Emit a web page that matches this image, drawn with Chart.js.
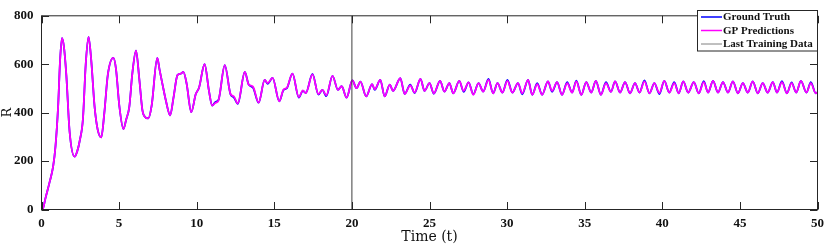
<!DOCTYPE html>
<html><head><meta charset="utf-8">
<script src="https://cdn.jsdelivr.net/npm/chart.js@4.4.1/dist/chart.umd.min.js"></script>
<style>html,body{margin:0;padding:0;background:#fff;}#wrap{width:830px;height:247px;position:relative;}</style>
</head><body><div id="wrap"><canvas id="c" width="830" height="247"></canvas></div>
<script>
const timeValues = [
0,0.1,0.25,0.53,0.75,0.9,1.07,1.2,1.32,1.45,
1.6,1.81,2.13,2.3,2.46,2.67,2.85,3.03,3.2,3.42,
3.62,3.85,4.05,4.27,4.63,4.8,5.02,5.28,5.45,5.66,
5.85,6.09,6.3,6.5,6.62,6.88,7.1,7.46,7.6,7.8,
8.01,8.29,8.5,8.76,8.97,9.14,9.35,9.65,9.94,10.15,
10.51,10.79,11.0,11.2,11.4,11.81,12.18,12.39,12.65,13.10,
13.35,13.63,13.99,14.38,14.57,14.89,15.32,15.6,15.8,16.17,
16.58,16.84,17.03,17.46,17.84,18.1,18.35,18.75,19.1,19.34,
19.66,20.03,20.3,20.55,20.92,21.3,21.47,21.83,22.11,22.44,
22.65,23.12,23.4,23.76,24.04,24.42,24.68,25.0,25.28,25.68,
25.96,26.28,26.53,26.92,27.2,27.52,27.82,28.16,28.46,28.8,
29.1,29.38,29.7,30.02,30.34,30.7,30.98,31.35,31.62,31.94,
32.26,32.63,32.9,33.22,33.54,33.87,34.19,34.46,34.78,35.1,
35.42,35.72,36.04,36.37,36.69,36.96,37.28,37.6,37.92,38.24,
38.53,38.85,39.17,39.49,39.81,40.13,40.45,40.77,41.06,41.35,
41.67,42.03,42.35,42.67,42.95,43.27,43.59,43.91,44.23,44.55,
44.87,45.19,45.51,45.83,46.15,46.47,46.79,47.12,47.39,47.71,
48.03,48.33,48.63,48.93,49.29,49.57,49.89,50
];
const gpPredictionR = [
0,5,45,115,178,260,425,620,708,670,
555,322,218,240,283,374,600,713,620,425,
330,298,400,555,626,580,425,332,370,425,
560,656,540,410,386,376,430,626,580,516,
451,389,460,555,561,568,520,402,477,503,
600,490,429,440,450,596,477,467,438,568,
516,507,441,535,522,544,447,496,502,561,
464,492,481,558,477,494,471,552,494,509,
462,533,501,528,467,518,496,535,467,516,
490,542,477,513,483,539,490,522,480,531,
487,522,480,531,490,525,474,522,487,535,
480,522,483,531,483,522,480,535,474,518,
474,529,490,526,474,522,483,529,474,526,
483,531,474,522,486,529,483,526,480,522,
483,529,480,522,481,531,483,522,480,529,
483,526,480,526,483,531,483,526,483,529,
480,522,483,529,480,522,483,526,483,526,
480,522,483,531,483,522,480,484
];
const groundTruthR = [
0,5,45,115,178,260,425,620,708,670,
555,322,218,240,283,374,600,713,620,425,
330,298,400,555,626,580,425,332,370,425,
560,656,540,410,386,376,430,626,580,516,
451,389,460,555,561,568,520,402,477,503,
600,490,429,444,452,596,475,463,436,568,
516,503,441,535,519,544,447,494,500,561,
462,490,481,560,475,494,468,552,494,509,
462,533,501,528,467,518,494,535,467,516,
490,542,477,516,481,539,490,522,478,531,
487,522,480,531,486,525,476,522,487,539,
480,522,483,535,483,522,476,535,474,522,
474,529,486,526,474,526,483,532,474,526,
483,531,474,526,486,529,483,526,480,522,
483,533,480,522,477,531,483,526,480,529,
483,526,480,530,483,531,483,526,483,529,
480,522,483,529,480,522,483,526,483,530,
480,525,483,531,483,526,480,484
];
const lastTrainingTime = 20;
const xTickValues = [0,5,10,15,20,25,30,35,40,45,50];
const yTickValues = [0,200,400,600,800];
const seriesLabels = ['Ground Truth','GP Predictions','Last Training Data'];
const xAxisTitle = 'Time (t)';
const yAxisTitle = 'R';

const COL_GT = '#0000FF', COL_GP = '#FF00FF', COL_LAST = '#3f3f3f', AXIS = '#262626';

const toPts = (ys) => timeValues.map((t, i) => ({x: t, y: ys[i]}));

const frameTicks = {
  id: 'frameTicks',
  afterDatasetsDraw(chart) {
    const {ctx, chartArea: a, scales: {x, y}} = chart;
    ctx.save();
    ctx.strokeStyle = AXIS; ctx.lineWidth = 1;
    ctx.strokeRect(a.left, a.top, a.right - a.left, a.bottom - a.top);
    const L = 7.5;
    ctx.beginPath();
    xTickValues.forEach(v => {
      const px = Math.round(x.getPixelForValue(v)) + 0.5;
      ctx.moveTo(px, a.bottom); ctx.lineTo(px, a.bottom - L);
      ctx.moveTo(px, a.top); ctx.lineTo(px, a.top + L);
    });
    yTickValues.forEach(v => {
      const py = Math.round(y.getPixelForValue(v)) + 0.5;
      ctx.moveTo(a.left, py); ctx.lineTo(a.left + L, py);
      ctx.moveTo(a.right, py); ctx.lineTo(a.right - L, py);
    });
    ctx.stroke();
    ctx.restore();
  }
};

const boxLegend = {
  id: 'boxLegend',
  afterDraw(chart) {
    const {ctx} = chart;
    const bx = 697.5, by = 10.5, bw = 120, bh = 40.5;
    ctx.save();
    ctx.fillStyle = '#fff';
    ctx.fillRect(bx, by, bw, bh);
    ctx.strokeStyle = AXIS; ctx.lineWidth = 1;
    ctx.strokeRect(bx, by, bw, bh);
    const cols = [COL_GT, COL_GP, '#808080'];
    const rows = [17, 30.5, 44];
    ctx.font = 'bold 11px "Liberation Serif"';
    ctx.textBaseline = 'middle';
    ctx.textAlign = 'left';
    seriesLabels.forEach((lab, i) => {
      ctx.strokeStyle = cols[i];
      ctx.lineWidth = i === 2 ? 1 : 1.5;
      ctx.beginPath();
      ctx.moveTo(701, rows[i]); ctx.lineTo(722, rows[i]);
      ctx.stroke();
      ctx.fillStyle = '#111';
      ctx.fillText(lab, 723, rows[i] + 0.5);
    });
    ctx.restore();
  }
};

new Chart(document.getElementById('c'), {
  type: 'scatter',
  data: {
    datasets: [
      {label: seriesLabels[2], data: [{x: lastTrainingTime, y: yTickValues[0]}, {x: lastTrainingTime, y: yTickValues[yTickValues.length-1]}],
       showLine: true, borderColor: COL_LAST, borderWidth: 1, pointRadius: 0, tension: 0, order: 0},
      {label: seriesLabels[1], data: toPts(gpPredictionR), showLine: true, borderColor: COL_GP, borderWidth: 1.8,
       pointRadius: 0, cubicInterpolationMode: 'monotone', order: 1},
      {label: seriesLabels[0], data: toPts(groundTruthR), showLine: true, borderColor: COL_GT, borderWidth: 1.8,
       pointRadius: 0, cubicInterpolationMode: 'monotone', order: 2}
    ]
  },
  options: {
    responsive: false, animation: false, devicePixelRatio: 1,
    layout: {padding: {top: 4.5, right: 7.5, left: 0, bottom: 0}},
    plugins: {legend: {display: false}, tooltip: {enabled: false}},
    scales: {
      x: {
        type: 'linear', min: 0, max: 50,
        afterBuildTicks: s => { s.ticks = xTickValues.map(v => ({value: v})); },
        afterFit: s => { s.height = 37.5; },
        grid: {display: true, drawOnChartArea: false, drawTicks: false},
        border: {display: false},
        ticks: {padding: 6, color: '#111', font: {family: 'Liberation Serif', size: 13, weight: 'bold'}, maxRotation: 0},
        title: {display: true, text: xAxisTitle, color: '#111', padding: {top: 0, bottom: 1}, font: {family: 'DejaVu Serif', size: 14}}
      },
      y: {
        type: 'linear', min: 0, max: 800,
        afterBuildTicks: s => { s.ticks = yTickValues.map(v => ({value: v})); },
        afterFit: s => { s.width = 41.5; },
        grid: {display: true, drawOnChartArea: false, drawTicks: false},
        border: {display: false},
        ticks: {padding: 8, color: '#111', font: {family: 'Liberation Serif', size: 13, weight: 'bold'}},
        title: {display: true, text: yAxisTitle, color: '#111', padding: {top: 0, bottom: 0}, font: {family: 'DejaVu Serif', size: 13}}
      }
    }
  },
  plugins: [frameTicks, boxLegend]
});
</script></body></html>
